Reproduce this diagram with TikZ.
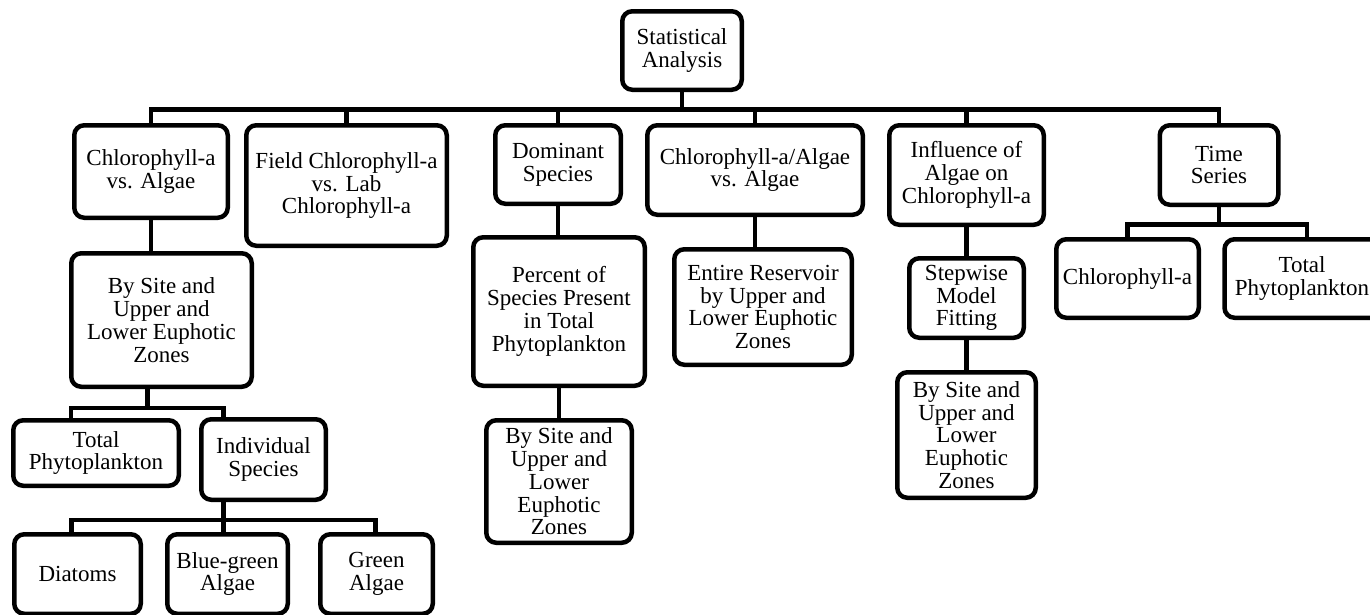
\documentclass[tikz,border=0pt]{standalone}
\usepackage{fontspec}
\setmainfont{Liberation Serif}
\begin{document}
\begin{tikzpicture}[x=1pt,y=-1pt,
    box/.style={draw,line width=4.5pt,rounded corners=10pt,align=center,inner sep=2pt,
        font=\fontsize{23}{22.8}\selectfont},
    link/.style={line width=4.5pt}]
        \useasboundingbox (0,0) rectangle (1370,614);
        \node[box,minimum width=119.5,minimum height=78.5] (stat) at (682,50.5) {Statistical\\Analysis};
        \node[box,minimum width=153.5,minimum height=92.5] (cva) at (151,171.5) {Chlorophyll-a\\vs. Algae};
        \node[box,minimum width=200.5,minimum height=120.5] (fvl) at (346.5,185.5) {Field Chlorophyll-a\\vs. Lab\\Chlorophyll-a};
        \node[box,minimum width=125.5,minimum height=78.5] (dom) at (558,164.5) {Dominant\\Species};
        \node[box,minimum width=215.5,minimum height=89.5] (rat) at (755,170) {Chlorophyll-a/Algae\\vs. Algae};
        \node[box,minimum width=154.5,minimum height=99.5] (inf) at (966.5,175) {Influence of\\Algae on\\Chlorophyll-a};
        \node[box,minimum width=118.5,minimum height=79.5] (ts) at (1219,165) {Time\\Series};
        \node[box,minimum width=180.5,minimum height=133.5] (s1) at (161.5,320) {By Site and\\Upper and\\Lower Euphotic\\Zones};
        \node[box,minimum width=171.5,minimum height=148.5] (pct) at (559,311.5) {Percent of\\Species Present\\in Total\\Phytoplankton};
        \node[box,minimum width=177.5,minimum height=115.5] (ent) at (763,307) {Entire Reservoir\\by Upper and\\Lower Euphotic\\Zones};
        \node[box,minimum width=114.5,minimum height=79.5] (stp) at (966.5,298) {Stepwise\\Model\\Fitting};
        \node[box,minimum width=142.5,minimum height=78.5] (tsc) at (1127.5,278.5) {Chlorophyll-a};
        \node[box,minimum width=165,minimum height=78.5] (tst) at (1307,278.5) {Total\hspace*{10pt}\\Phytoplankton\hspace*{10pt}};
        \node[box,minimum width=165.5,minimum height=65.5] (tp) at (96,453) {Total\\Phytoplankton};
        \node[box,minimum width=124.5,minimum height=80.5] (ind) at (263.5,459.5) {Individual\\Species};
        \node[box,minimum width=145.5,minimum height=122.5] (pbs) at (559,481.5) {By Site and\\Upper and\\Lower\\Euphotic\\Zones};
        \node[box,minimum width=138.5,minimum height=125.5] (ibs) at (966.5,435) {By Site and\\Upper and\\Lower\\Euphotic\\Zones};
        \node[box,minimum width=126.5,minimum height=79.5] (dia) at (77.5,574) {Diatoms};
        \node[box,minimum width=120.5,minimum height=79.5] (bga) at (227.5,574) {Blue-green\\Algae};
        \node[box,minimum width=112.5,minimum height=79.5] (gra) at (376.5,574) {Green\\Algae};
        \foreach \c in {cva,fvl,dom,rat,inf,ts}
            \draw[link] (stat.south) -- ++(0,17.25) -| (\c.north);
        \foreach \c in {tsc,tst}
            \draw[link] (ts.south) -- ++(0,17.25) -| (\c.north);
        \draw[link] (cva.south) -- (cva.south |- s1.north);
        \draw[link] (dom.south) -- (dom.south |- pct.north);
        \draw[link] (pct.south) -- (pct.south |- pbs.north);
        \draw[link] (rat.south) -- (rat.south |- ent.north);
        \draw[link] (inf.south) -- (inf.south |- stp.north);
        \draw[link] (stp.south) -- (stp.south |- ibs.north);
        \draw[link] ([xshift=-14]s1.south) -- ++(0,19) -| ([xshift=-25]tp.north);
        \draw[link] ([xshift=-14]s1.south) -- ++(0,19) -| ([xshift=-40]ind.north);
        \draw[link] ([xshift=-40]ind.south) -- ++(0,18) -| ([xshift=-6]dia.north);
        \draw[link] ([xshift=-40]ind.south) -- ++(0,18) -| ([xshift=-4]bga.north);
        \draw[link] ([xshift=-40]ind.south) -- ++(0,18) -| ([xshift=-1]gra.north);
    \end{tikzpicture}
\end{document}
